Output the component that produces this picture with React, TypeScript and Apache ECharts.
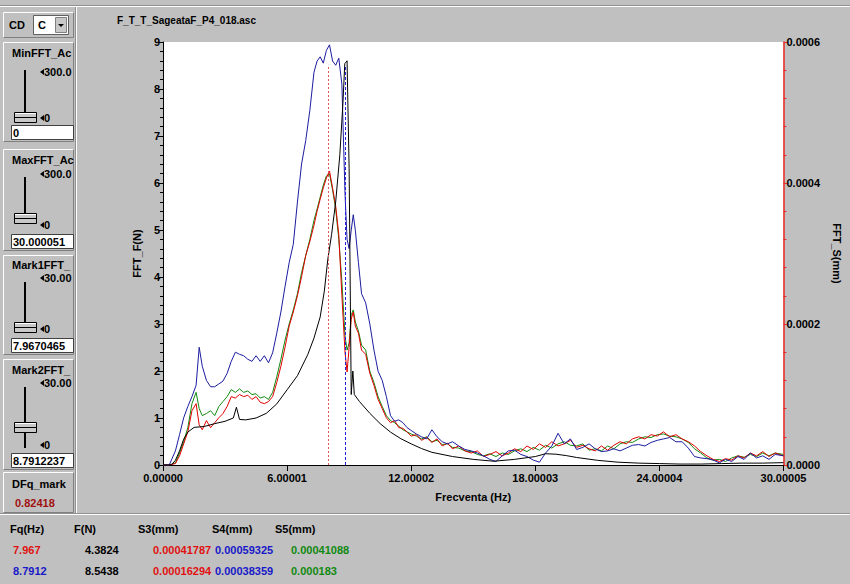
import React, { useEffect, useRef } from 'react';
import * as echarts from 'echarts';

// ---------- DATA ----------
const chartTitle = 'F_T_T_SageataF_P4_018.asc';
const xName = 'Frecventa (Hz)';
const yLeftName = 'FFT_F(N)';
const yRightName = 'FFT_S(mm)';

// Force spectrum (left axis, N)
const freqF = [0, 0.4, 0.6, 0.8, 1.0, 1.2, 1.5, 2.0, 2.5, 3.0, 3.4, 3.55, 3.7, 4.0, 4.5, 5.0, 5.5, 6.0, 6.5, 7.0,
  7.3, 7.6, 7.8, 7.97, 8.15, 8.35, 8.55, 8.7, 8.79, 8.9, 9.0, 9.1, 9.18, 9.25, 9.5, 10.0, 10.5, 11.0, 11.5, 12.0,
  12.5, 13.0, 14.0, 15.0, 16.0, 17.0, 18.0, 18.5, 19.0, 19.5, 20.0, 21.0, 22.0, 23.0, 24.0, 25.0, 26.0, 27.0, 28.0, 29.0, 30.0];
const valF = [0, 0, 0.1, 0.3, 0.55, 0.7, 0.8, 0.82, 0.88, 0.93, 1.0, 1.23, 0.97, 0.96, 1.0, 1.1, 1.3, 1.6, 1.9, 2.35,
  2.7, 3.15, 3.7, 4.38, 4.9, 5.6, 6.6, 7.7, 8.54, 8.6, 6.3, 1.5, 2.0, 1.5, 1.35, 1.1, 0.88, 0.7, 0.56, 0.45,
  0.35, 0.27, 0.18, 0.12, 0.08, 0.12, 0.18, 0.24, 0.23, 0.2, 0.16, 0.1, 0.06, 0.04, 0.03, 0.02, 0.02, 0.03, 0.04, 0.04, 0.05];

// Displacement spectra (right axis, mm)
const freqS = [0, 0.3, 0.6, 0.8, 1.0, 1.2, 1.4, 1.6, 1.75, 1.9,
  2.1, 2.3, 2.5, 2.7, 2.9, 3.1, 3.3, 3.5, 3.7, 3.9,
  4.1, 4.3, 4.5, 4.7, 4.9, 5.1, 5.3, 5.5, 5.7, 5.9,
  6.1, 6.3, 6.5, 6.7, 6.9, 7.1, 7.3, 7.45, 7.6, 7.75,
  7.9, 8.05, 8.2, 8.35, 8.5, 8.65, 8.8, 8.9, 9.0, 9.1,
  9.2, 9.3, 9.45, 9.6, 9.8, 10.0, 10.2, 10.4, 10.6, 10.8,
  11.0, 11.2, 11.4, 11.6, 11.8, 12.0, 12.25, 12.5, 12.75, 13.0,
  13.25, 13.5, 13.75, 14.0, 14.3, 14.6, 14.9, 15.2, 15.5, 15.8,
  16.1, 16.4, 16.7, 17.0, 17.3, 17.6, 17.9, 18.2, 18.5, 18.8,
  19.1, 19.4, 19.7, 20.0, 20.3, 20.6, 20.9, 21.2, 21.5, 21.8,
  22.1, 22.4, 22.7, 23.0, 23.3, 23.6, 23.9, 24.2, 24.5, 24.8,
  25.1, 25.4, 25.7, 26.0, 26.3, 26.6, 26.9, 27.2, 27.5, 27.8,
  28.1, 28.4, 28.7, 29.0, 29.3, 29.6, 30.0];
const s3 = [0, 0, 0.02e-4, 0.13e-4, 0.3e-4, 0.47e-4, 0.77e-4, 0.87e-4, 0.57e-4, 0.5e-4,
  0.63e-4, 0.53e-4, 0.6e-4, 0.67e-4, 0.73e-4, 0.83e-4, 0.97e-4, 0.95e-4, 1.0e-4, 0.97e-4,
  0.99e-4, 0.93e-4, 0.97e-4, 0.89e-4, 0.87e-4, 0.9e-4, 0.97e-4, 1.17e-4, 1.4e-4, 1.67e-4,
  1.97e-4, 2.17e-4, 2.4e-4, 2.67e-4, 2.97e-4, 3.17e-4, 3.4e-4, 3.6e-4, 3.77e-4, 3.93e-4,
  4.07e-4, 4.17e-4, 3.93e-4, 3.67e-4, 3.27e-4, 2.4e-4, 1.6e-4, 1.32e-4, 1.67e-4, 2.07e-4,
  2.17e-4, 1.97e-4, 1.87e-4, 1.63e-4, 1.57e-4, 1.3e-4, 1.13e-4, 0.93e-4, 0.8e-4, 0.67e-4,
  0.6e-4, 0.63e-4, 0.53e-4, 0.52e-4, 0.47e-4, 0.41e-4, 0.43e-4, 0.35e-4, 0.39e-4, 0.32e-4,
  0.37e-4, 0.27e-4, 0.31e-4, 0.23e-4, 0.27e-4, 0.2e-4, 0.17e-4, 0.2e-4, 0.12e-4, 0.15e-4,
  0.19e-4, 0.13e-4, 0.17e-4, 0.23e-4, 0.19e-4, 0.27e-4, 0.22e-4, 0.3e-4, 0.25e-4, 0.33e-4,
  0.27e-4, 0.3e-4, 0.35e-4, 0.25e-4, 0.28e-4, 0.23e-4, 0.2e-4, 0.27e-4, 0.21e-4, 0.28e-4,
  0.33e-4, 0.3e-4, 0.37e-4, 0.4e-4, 0.37e-4, 0.43e-4, 0.41e-4, 0.47e-4, 0.4e-4, 0.43e-4,
  0.37e-4, 0.33e-4, 0.27e-4, 0.19e-4, 0.13e-4, 0.08e-4, 0.05e-4, 0.09e-4, 0.07e-4, 0.13e-4,
  0.1e-4, 0.17e-4, 0.13e-4, 0.19e-4, 0.12e-4, 0.17e-4, 0.13e-4];
const s4 = [0, 0, 0.2e-4, 0.43e-4, 0.67e-4, 0.83e-4, 0.97e-4, 1.13e-4, 1.67e-4, 1.4e-4,
  1.2e-4, 1.11e-4, 1.11e-4, 1.15e-4, 1.19e-4, 1.3e-4, 1.47e-4, 1.6e-4, 1.57e-4, 1.55e-4,
  1.5e-4, 1.47e-4, 1.55e-4, 1.47e-4, 1.55e-4, 1.45e-4, 1.59e-4, 1.87e-4, 2.17e-4, 2.53e-4,
  2.87e-4, 3.13e-4, 3.73e-4, 4.27e-4, 4.6e-4, 5.03e-4, 5.57e-4, 5.73e-4, 5.79e-4, 5.7e-4,
  5.88e-4, 5.96e-4, 5.73e-4, 5.67e-4, 5.77e-4, 5.4e-4, 3.85e-4, 3.2e-4, 3.07e-4, 3.33e-4,
  3.55e-4, 3.33e-4, 2.87e-4, 2.43e-4, 2.3e-4, 2.0e-4, 1.63e-4, 1.33e-4, 1.2e-4, 0.97e-4,
  0.7e-4, 0.62e-4, 0.64e-4, 0.6e-4, 0.53e-4, 0.49e-4, 0.44e-4, 0.4e-4, 0.37e-4, 0.5e-4,
  0.4e-4, 0.33e-4, 0.3e-4, 0.33e-4, 0.27e-4, 0.22e-4, 0.2e-4, 0.17e-4, 0.13e-4, 0.08e-4,
  0.05e-4, 0.13e-4, 0.2e-4, 0.21e-4, 0.15e-4, 0.12e-4, 0.07e-4, 0.04e-4, 0.17e-4, 0.27e-4,
  0.45e-4, 0.3e-4, 0.37e-4, 0.22e-4, 0.25e-4, 0.3e-4, 0.23e-4, 0.19e-4, 0.2e-4, 0.23e-4,
  0.2e-4, 0.24e-4, 0.28e-4, 0.29e-4, 0.27e-4, 0.32e-4, 0.35e-4, 0.37e-4, 0.39e-4, 0.33e-4,
  0.33e-4, 0.24e-4, 0.12e-4, 0.1e-4, 0.09e-4, 0.07e-4, 0.03e-4, 0.08e-4, 0.05e-4, 0.12e-4,
  0.08e-4, 0.17e-4, 0.1e-4, 0.13e-4, 0.08e-4, 0.15e-4, 0.13e-4];
const s5 = [0, 0, 0.03e-4, 0.17e-4, 0.33e-4, 0.53e-4, 0.87e-4, 1.03e-4, 0.8e-4, 0.7e-4,
  0.73e-4, 0.77e-4, 0.7e-4, 0.83e-4, 0.9e-4, 0.97e-4, 1.07e-4, 1.03e-4, 1.08e-4, 1.03e-4,
  1.05e-4, 1.0e-4, 1.01e-4, 0.95e-4, 0.97e-4, 0.93e-4, 1.03e-4, 1.25e-4, 1.5e-4, 1.77e-4,
  2.0e-4, 2.2e-4, 2.43e-4, 2.73e-4, 2.97e-4, 3.2e-4, 3.47e-4, 3.63e-4, 3.8e-4, 3.97e-4,
  4.1e-4, 4.13e-4, 3.9e-4, 3.63e-4, 3.2e-4, 2.6e-4, 1.83e-4, 1.63e-4, 1.73e-4, 2.13e-4,
  2.2e-4, 2.03e-4, 1.9e-4, 1.7e-4, 1.63e-4, 1.33e-4, 1.17e-4, 0.97e-4, 0.83e-4, 0.7e-4,
  0.63e-4, 0.6e-4, 0.55e-4, 0.5e-4, 0.47e-4, 0.44e-4, 0.41e-4, 0.37e-4, 0.4e-4, 0.33e-4,
  0.35e-4, 0.29e-4, 0.3e-4, 0.25e-4, 0.24e-4, 0.2e-4, 0.19e-4, 0.15e-4, 0.13e-4, 0.16e-4,
  0.12e-4, 0.17e-4, 0.15e-4, 0.2e-4, 0.23e-4, 0.19e-4, 0.25e-4, 0.21e-4, 0.28e-4, 0.24e-4,
  0.3e-4, 0.33e-4, 0.28e-4, 0.27e-4, 0.3e-4, 0.21e-4, 0.23e-4, 0.2e-4, 0.27e-4, 0.23e-4,
  0.3e-4, 0.33e-4, 0.32e-4, 0.37e-4, 0.4e-4, 0.39e-4, 0.43e-4, 0.44e-4, 0.41e-4, 0.4e-4,
  0.37e-4, 0.32e-4, 0.23e-4, 0.17e-4, 0.1e-4, 0.07e-4, 0.08e-4, 0.05e-4, 0.1e-4, 0.13e-4,
  0.11e-4, 0.15e-4, 0.12e-4, 0.17e-4, 0.13e-4, 0.17e-4, 0.15e-4];

// Markers
const markerFreqs = [7.967, 8.7912];
const markerTops = [8.5, 8.5];
const markerColors = ['#e05a5a', '#2020e0'];

// Side panel texts
const panelTitles = ['MinFFT_Ac', 'MaxFFT_Ac', 'Mark1FFT_', 'Mark2FFT_'];
const panelMaxLabels = ['300.0', '300.0', '30.00', '30.00'];
const panelBoxValues = ['0', '30.000051', '7.9670465', '8.7912237'];
const dfqLabel = 'DFq_mark';
const dfqValue = '0.82418';

// Bottom table
const tableHeaders = ['Fq(Hz)', 'F(N)', 'S3(mm)', 'S4(mm)', 'S5(mm)'];
const tableRow1 = ['7.967', '4.3824', '0.00041787', '0.00059325', '0.00041088'];
const tableRow2 = ['8.7912', '8.5438', '0.00016294', '0.00038359', '0.000183'];

// ---------- STYLE / LAYOUT ----------
const FONT = 'Arial, "Liberation Sans", sans-serif';
const C_RED = '#e01010';
const C_BLUE = '#1818c8';
const C_GREEN = '#108a10';
const L_RED = '#e00000';
const L_BLUE = '#1c1ca0';
const L_GREEN = '#108a10';
const AXIS_RED = 'rgb(235,40,40)';

const panelLayout = [
  { top: 42, bottom: 141, titleY: 53, maxY: 72, lineTop: 70, lineBot: 118, thumbY: 112, zeroY: 118, boxY: 125 },
  { top: 149, bottom: 250, titleY: 160, maxY: 174, lineTop: 177, lineBot: 222, thumbY: 213, zeroY: 225, boxY: 234 },
  { top: 255, bottom: 354, titleY: 265, maxY: 278, lineTop: 282, lineBot: 332, thumbY: 322, zeroY: 329, boxY: 338 },
  { top: 359, bottom: 469, titleY: 370, maxY: 383, lineTop: 387, lineBot: 448, thumbY: 422, zeroY: 445, boxY: 453 },
];

function txt(x: number, y: number, text: string, fill = '#000', size = 11, align = 'left') {
  return {
    type: 'text', x, y, silent: true,
    style: { text, fill, font: `bold ${size}px ${FONT}`, align, verticalAlign: 'middle' },
  };
}
function ln(x1: number, y1: number, x2: number, y2: number, stroke: string, w = 1) {
  return { type: 'line', silent: true, shape: { x1, y1, x2, y2 }, style: { stroke, lineWidth: w } };
}
function bevel(x: number, y: number, w: number, h: number) {
  return [
    { type: 'polyline', silent: true, shape: { points: [[x, y + h], [x, y], [x + w, y]] }, style: { stroke: '#ffffff', lineWidth: 1, fill: null } },
    { type: 'polyline', silent: true, shape: { points: [[x + w, y], [x + w, y + h], [x, y + h]] }, style: { stroke: '#808080', lineWidth: 1, fill: null } },
  ];
}
function arrowLeft(x: number, y: number) {
  return { type: 'polygon', silent: true, shape: { points: [[x, y], [x + 4, y - 3], [x + 4, y + 3]] }, style: { fill: '#000' } };
}

function buildGraphic() {
  const g: any[] = [];
  // window separators
  g.push(ln(0, 5.5, 850, 5.5, '#909090'));
  g.push(ln(0, 6.5, 850, 6.5, '#ffffff'));
  g.push(ln(75.5, 7, 75.5, 514, '#909090'));
  g.push(ln(76.5, 7, 76.5, 514, '#ffffff'));
  g.push(ln(0, 513.5, 850, 513.5, '#909090'));
  g.push(ln(0, 514.5, 850, 514.5, '#ffffff'));
  // title
  g.push(txt(117, 20, chartTitle, '#000', 10));
  // CD combo
  g.push(...bevel(3.5, 12.5, 70, 25));
  g.push(txt(9, 25, 'CD'));
  g.push({ type: 'rect', silent: true, shape: { x: 33.5, y: 15.5, width: 35, height: 19 }, style: { fill: '#fff', stroke: '#606060', lineWidth: 1 } });
  g.push(txt(38, 25, 'C'));
  g.push({ type: 'rect', silent: true, shape: { x: 55.5, y: 17.5, width: 11, height: 15 }, style: { fill: '#c8c8c8', stroke: '#808080', lineWidth: 1 } });
  g.push({ type: 'polygon', silent: true, shape: { points: [[58, 24], [64, 24], [61, 27]] }, style: { fill: '#000' } });
  // slider panels
  panelLayout.forEach((p, i) => {
    g.push(...bevel(3.5, p.top + 0.5, 70, p.bottom - p.top));
    g.push(txt(12, p.titleY, panelTitles[i]));
    g.push(arrowLeft(40, p.maxY));
    g.push(txt(44, p.maxY, panelMaxLabels[i]));
    g.push({ type: 'rect', silent: true, shape: { x: 24, y: p.lineTop, width: 2, height: p.lineBot - p.lineTop }, style: { fill: '#000' } });
    g.push({ type: 'rect', silent: true, shape: { x: 14.5, y: p.thumbY + 0.5, width: 22, height: 10 }, style: { fill: '#c8c8c8', stroke: '#000', lineWidth: 1 } });
    g.push(ln(15, p.thumbY + 1.5, 36, p.thumbY + 1.5, '#ffffff'));
    g.push(ln(15, p.thumbY + 5.5, 36, p.thumbY + 5.5, '#000'));
    g.push(arrowLeft(40, p.zeroY));
    g.push(txt(44, p.zeroY, '0'));
    g.push({ type: 'rect', silent: true, shape: { x: 11.5, y: p.boxY + 0.5, width: 62, height: 14 }, style: { fill: '#fff', stroke: '#404040', lineWidth: 1 } });
    g.push(txt(13, p.boxY + 8, panelBoxValues[i]));
  });
  // DFq panel
  g.push(...bevel(3.5, 472.5, 70, 40));
  g.push(txt(12, 484, dfqLabel));
  g.push(txt(15, 503, dfqValue, '#a01010'));
  // bottom table
  const hx = [10, 74, 138, 212, 275];
  const vx = [13, 85, 153, 215, 291];
  tableHeaders.forEach((h, i) => g.push(txt(hx[i], 529, h)));
  const c1 = [C_RED, '#000', C_RED, C_BLUE, C_GREEN];
  const c2 = [C_BLUE, '#000', C_RED, C_BLUE, C_GREEN];
  tableRow1.forEach((t, i) => g.push(txt(vx[i], 550, t, c1[i])));
  tableRow2.forEach((t, i) => g.push(txt(vx[i], 571, t, c2[i])));
  return g;
}

const labelStyle = { color: '#000', fontWeight: 'bold' as const, fontSize: 11, fontFamily: FONT };

function buildOption() {
  return {
    animation: false,
    backgroundColor: '#c0c0c0',
    grid: {
      left: 163, right: 65, top: 42, bottom: 119, show: true,
      backgroundColor: '#ffffff', borderWidth: 0, borderColor: 'rgba(0,0,0,0)',
    },
    graphic: buildGraphic(),
    xAxis: {
      type: 'value', min: 0, max: 30.00005, interval: 6.00001,
      name: xName, nameLocation: 'middle', nameGap: 26,
      nameTextStyle: { ...labelStyle },
      axisLine: { show: true, onZero: false, lineStyle: { color: '#000', width: 1 } },
      axisTick: { show: true, length: 6, lineStyle: { color: '#000' } },
      axisLabel: { ...labelStyle, margin: 7, showMaxLabel: true, showMinLabel: true, formatter: (v: number) => v.toFixed(5) },
      splitLine: { show: false },
    },
    yAxis: [
      {
        type: 'value', min: 0, max: 9, interval: 1, position: 'left',
        name: yLeftName, nameLocation: 'middle', nameGap: 17, nameRotate: 90,
        nameTextStyle: { ...labelStyle },
        axisLine: { show: true, onZero: false, lineStyle: { color: '#000', width: 1 } },
        axisTick: { show: true, inside: false, length: 5, lineStyle: { color: '#000' } },
        minorTick: { show: true, splitNumber: 5, length: 3, lineStyle: { color: '#000' } },
        axisLabel: { ...labelStyle, margin: 3 },
        splitLine: { show: false },
      },
      {
        type: 'value', min: 0, max: 0.0006, interval: 0.0002, position: 'right',
        name: yRightName, nameLocation: 'middle', nameGap: 44, nameRotate: -90,
        nameTextStyle: { ...labelStyle },
        axisLine: { show: true, onZero: false, lineStyle: { color: AXIS_RED, width: 1.5 } },
        axisTick: { show: true, inside: false, length: 5, lineStyle: { color: AXIS_RED } },
        minorTick: { show: true, splitNumber: 5, length: 3, lineStyle: { color: AXIS_RED } },
        axisLabel: { ...labelStyle, margin: 3, formatter: (v: number) => v.toFixed(4) },
        splitLine: { show: false },
      },
    ],
    series: [
      {
        name: 'S5', type: 'line', yAxisIndex: 1, showSymbol: false, symbol: 'none',
        lineStyle: { color: L_GREEN, width: 1 }, data: freqS.map((f, i) => [f, s5[i]]),
      },
      {
        name: 'S3', type: 'line', yAxisIndex: 1, showSymbol: false, symbol: 'none',
        lineStyle: { color: L_RED, width: 1 }, data: freqS.map((f, i) => [f, s3[i]]),
      },
      {
        name: 'S4', type: 'line', yAxisIndex: 1, showSymbol: false, symbol: 'none',
        lineStyle: { color: L_BLUE, width: 1 }, data: freqS.map((f, i) => [f, s4[i]]),
      },
      {
        name: 'F', type: 'line', yAxisIndex: 0, showSymbol: false, symbol: 'none', z: 3,
        lineStyle: { color: '#000', width: 1 }, data: freqF.map((f, i) => [f, valF[i]]),
        markLine: {
          silent: true, symbol: ['none', 'none'], label: { show: false }, z: 5,
          data: markerFreqs.map((f, i) => [
            { coord: [f, 0], lineStyle: { color: markerColors[i], width: 1, type: i === 0 ? [2, 2] : [3, 2] } },
            { coord: [f, markerTops[i]], lineStyle: { color: markerColors[i], width: 1, type: i === 0 ? [2, 2] : [3, 2] } },
          ]),
        },
      },
    ],
  };
}

export default function App() {
  const ref = useRef<HTMLDivElement>(null);
  useEffect(() => {
    if (!ref.current) return;
    const chart = echarts.init(ref.current, null, { renderer: 'svg' });
    chart.setOption(buildOption() as any);
    return () => chart.dispose();
  }, []);
  return (
    <div
      ref={ref}
      style={{ position: 'fixed', left: 0, top: 0, width: 850, height: 584, background: '#c0c0c0' }}
    />
  );
}
